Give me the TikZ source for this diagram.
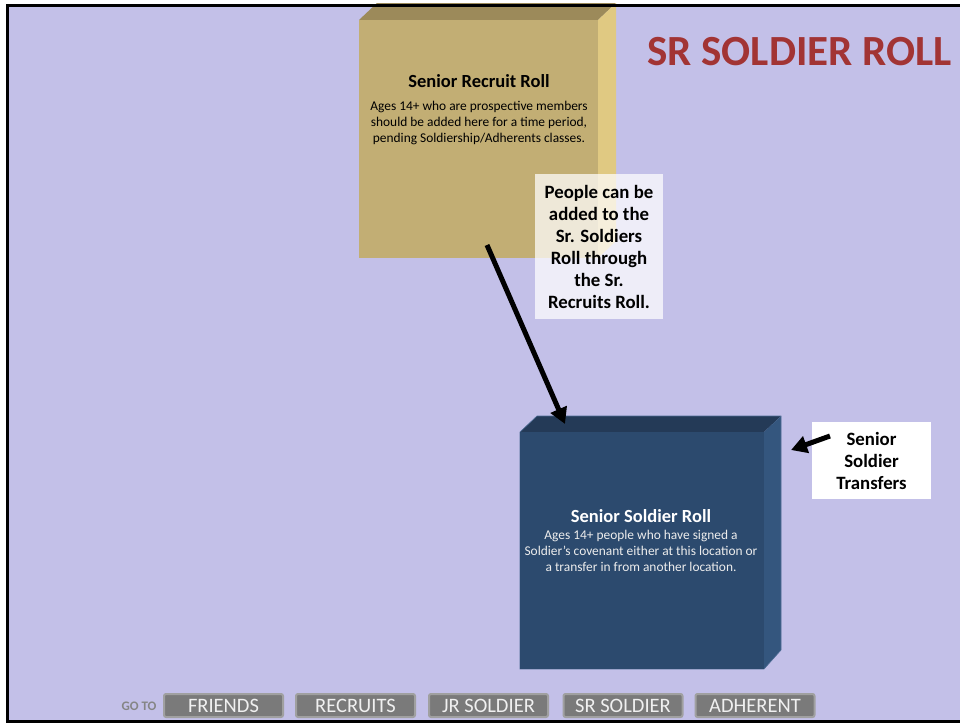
\documentclass[tikz,border=0pt]{standalone}
\usepackage{fontspec}
\setmainfont{Carlito}
\usetikzlibrary{arrows.meta}
\definecolor{bg}{HTML}{C3C0E8}
\definecolor{rfrontc}{HTML}{C2AE74}
\definecolor{rtopc}{HTML}{9C8A5A}
\definecolor{rsidec}{HTML}{E0C982}
\definecolor{sfrontc}{HTML}{2C4A6E}
\definecolor{stopc}{HTML}{243A57}
\definecolor{ssidec}{HTML}{34567E}
\definecolor{sedge}{HTML}{4C6C94}
\definecolor{titlec}{HTML}{A23434}
\definecolor{btnfill}{HTML}{7A7A7A}
\definecolor{btnedge}{HTML}{A0A0A0}
\definecolor{gotoc}{HTML}{858585}
\tikzset{
  bigarrow/.style={line width=5pt,-{Triangle[length=16pt,width=17pt]}},
  callout/.style={fill=white,fill opacity=0.72,text opacity=1,inner sep=0pt,align=center,
     font=\bfseries\fontsize{18.8}{22}\selectfont},
  whitebox/.style={fill=white,inner sep=0pt,align=center,font=\bfseries\fontsize{18.8}{22}\selectfont},
  btn/.style={fill=btnfill,draw=btnedge,line width=2pt,rounded corners=2pt,minimum width=119pt,
     minimum height=23pt,inner sep=0pt,text=white!94!black,font=\fontsize{20.5}{22}\selectfont},
  boxtitle/.style={font=\bfseries\fontsize{18.5}{20}\selectfont,inner sep=0pt},
  boxbody/.style={font=\fontsize{13.4}{16}\selectfont,inner sep=0pt,align=center},
}
\begin{document}
\begin{tikzpicture}[x=1pt,y=-1pt]
\useasboundingbox (0,0) rectangle (960,723);
\fill[white] (0,0) rectangle (960,723);
\fill[bg] (7,5) rectangle (960,721);

% Senior Recruit Roll box
\fill[rtopc] (359,20) -- (377,3) -- (616,3) -- (598,20) -- cycle;
\fill[rsidec] (598,20) -- (616,3) -- (616,241) -- (598,258) -- cycle;
\node[fill=rfrontc,minimum width=239pt,minimum height=238pt,inner sep=0pt] (recruit) at (478.5,139) {};
\node[boxtitle] (recruitTitle) at (479,81) {Senior Recruit Roll};
\node[boxbody] (recruitBody) at (479,123) {Ages 14+ who are prospective members\\should be added here for a time period,\\pending Soldiership/Adherents classes.};

% Senior Soldier Roll box
\fill[stopc] (520,432) -- (537,416) -- (781,416) -- (764,432) -- cycle;
\fill[ssidec] (764,432) -- (781,416) -- (781,650) -- (764,669) -- cycle;
\draw[sedge,line width=0.6pt] (520,432) -- (537,416) -- (781,416) -- (781,650) -- (764,669) -- (520,669) -- cycle;
\node[fill=sfrontc,minimum width=244pt,minimum height=237pt,inner sep=0pt] (soldier) at (642,550.5) {};
\node[boxtitle,text=white] (soldierTitle) at (641,516) {Senior Soldier Roll};
\node[boxbody,text=white!93!black] (soldierBody) at (641,551) {Ages 14+ people who have signed a\\Soldier’s covenant either at this location or\\a transfer in from another location.};

% callout
\node[callout,minimum width=128pt,minimum height=145pt] (people) at (599,246.5)
  {People can be\\added to the\\Sr. Soldiers\\Roll through\\the Sr.\\Recruits Roll.};

% transfers
\node[whitebox,minimum width=119pt,minimum height=77pt] (transfers) at (871.5,460.5)
  {Senior\\Soldier\\Transfers};

% arrows
\coordinate (a1) at (487,245);
\coordinate (a2) at (565,424);
\draw[bigarrow] (a1) -- (a2);
\coordinate (t1) at (830,436);
\coordinate (t2) at (791,450);
\draw[bigarrow] (t1) -- (t2);

% title
\node[font=\bfseries\fontsize{43}{47}\selectfont,text=titlec,inner sep=0pt] (title) at (799.5,52) {SR SOLDIER ROLL};

% bottom nav
\node[font=\bfseries\fontsize{13}{14}\selectfont,text=gotoc,inner sep=0pt] (goto) at (139,706.5) {GO TO};
\node[btn] (friends) at (223.5,705.5) {FRIENDS};
\node[btn] (recruits) at (355.5,705.5) {RECRUITS};
\node[btn] (jr) at (488.5,705.5) {JR SOLDIER};
\node[btn] (sr) at (623,705.5) {SR SOLDIER};
\node[btn] (adh) at (755,705.5) {ADHERENT};

% frame
\draw[line width=3pt] (960,5) -- (7,5) -- (7,721) -- (960,721);
\end{tikzpicture}
\end{document}
